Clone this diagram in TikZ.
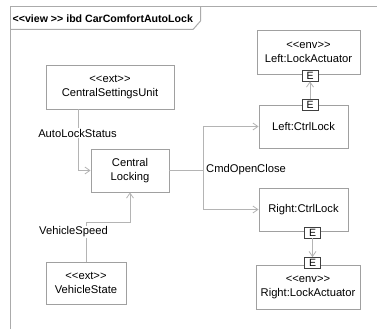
\documentclass[tikz,border=0pt]{standalone}
\usepackage{fontspec}
\setmainfont{Liberation Sans}[Ligatures=TeXOff]
\usetikzlibrary{arrows.meta}
\definecolor{boxgray}{HTML}{A0A0A0}
\definecolor{linegray}{HTML}{B4B4B4}
\definecolor{framegray}{HTML}{ABABAB}
\definecolor{portgray}{HTML}{404040}
\begin{document}
\begin{tikzpicture}[x=1pt,y=-1pt,
  every node/.style={font=\fontsize{11.2}{14}\selectfont, inner sep=0pt},
  blockbox/.style={draw=boxgray, line width=0.9pt, fill=white, align=center},
  portbox/.style={draw=portgray, line width=0.8pt, fill=white, minimum width=16pt, minimum height=11pt, font=\fontsize{10.5}{11}\selectfont},
  conn/.style={draw=linegray, line width=1pt},
  tipped/.style={conn, -{Straight Barb[length=5pt,width=7pt,line width=0.8pt]}},
  lbl/.style={fill=white, inner sep=1pt}
]
\useasboundingbox (0,0) rectangle (377,329);
% frame
\draw[framegray, line width=1pt] (10,329) -- (10,7) -- (377,7);
\draw[framegray, line width=1pt] (10,29.5) -- (193,29.5) -- (200.5,21) -- (200.5,7);
\node[anchor=west, font=\bfseries\fontsize{10.6}{12}\selectfont] (title) at (12.5,18.5) {<\kern0pt<view >\kern0pt> ibd CarComfortAutoLock};

% blocks
\node[blockbox, minimum width=128pt, minimum height=44pt] (csu) at (110,87) {<\kern0pt<ext>\kern0pt>\\CentralSettingsUnit};
\node[blockbox, minimum width=78pt, minimum height=43pt] (cl) at (130,170.5) {Central\\Locking};
\node[blockbox, minimum width=80pt, minimum height=42pt] (vs) at (86,283) {<\kern0pt<ext>\kern0pt>\\VehicleState};
\node[blockbox, minimum width=103pt, minimum height=44pt] (lla) at (308.5,52) {<\kern0pt<env>\kern0pt>\\Left:LockActuator};
\node[blockbox, minimum width=89pt, minimum height=43pt] (lcl) at (303.5,126.5) {Left:CtrlLock};
\node[blockbox, minimum width=89pt, minimum height=43pt] (rcl) at (303.5,209.5) {Right:CtrlLock};
\node[blockbox, minimum width=104pt, minimum height=44pt] (rla) at (308,287.5) {<\kern0pt<env>\kern0pt>\\Right:LockActuator};

% ports
\node[portbox] (llap) at (310,75.5) {E};
\node[portbox] (lclp) at (310,104.5) {E};
\node[portbox] (rclp) at (312.5,232.5) {E};
\node[portbox] (rlap) at (312.5,263) {E};

% connectors
\coordinate (csuout) at ([xshift=33pt]csu.south west);
\draw[tipped] (csuout) |- (cl.west);
\node[lbl] (als) at (77.5,133) {AutoLockStatus};

\coordinate (vsbend) at (86,222);
\draw[tipped] (vs.north) -- (vsbend) -| (cl.south);
\node[lbl] (vsp) at (73.5,232) {VehicleSpeed};

\coordinate (junc) at (203,170.5);
\draw[conn] (cl.east) -- (junc);
\draw[tipped] (junc) |- (lcl.west);
\draw[tipped] (junc) |- (rcl.west);
\node[anchor=west] (coc) at (206,170) {CmdOpenClose};

\draw[tipped] (lclp.north) -- (llap.south);
\draw[tipped] (rclp.south) -- (rlap.north);
\end{tikzpicture}
\end{document}
